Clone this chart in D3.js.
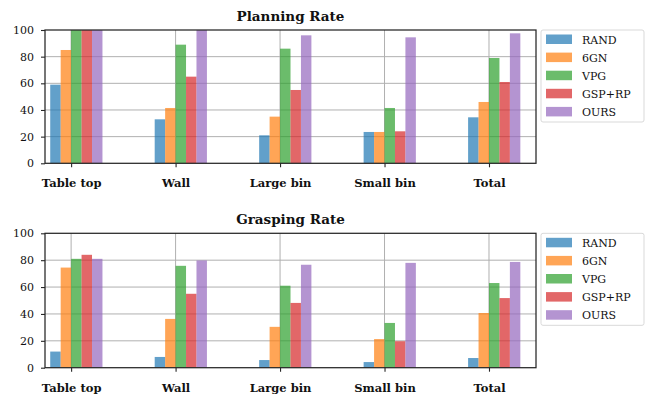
<!DOCTYPE html>
<html>
<head>
<meta charset="utf-8">
<script src="https://cdn.jsdelivr.net/npm/d3@7"></script>
<style>
  html, body { margin: 0; padding: 0; background: #fff; }
  svg { display: block; }
  text { font-family: "DejaVu Serif", serif; fill: #111; }
</style>
</head>
<body>
<svg id="chart" width="647" height="394"></svg>
<script>
// Scenario categories along the x axis
const categories = ["Table top", "Wall", "Large bin", "Small bin", "Total"];
// Methods compared (one bar each per category)
const methods = ["RAND", "6GN", "VPG", "GSP+RP", "OURS"];
const methodColors = ["#1f77b4", "#ff7f0e", "#2ca02c", "#d62728", "#9467bd"];
const yTicks = [0, 20, 40, 60, 80, 100];

// Planning rate (%) per method, listed by category
const planRAND  = [59, 33, 21, 23.5, 34.5];
const planSixGN = [85, 41.5, 35, 23.5, 46];
const planVPG   = [100, 89, 86, 41.5, 79];
const planGSPRP = [100, 65, 55, 24, 61];
const planOURS  = [100, 100, 96, 94.5, 97.5];

// Grasping rate (%) per method, listed by category
const graspRAND  = [12, 8, 5.7, 4.2, 7.2];
const graspSixGN = [74.5, 36.3, 30.4, 21.3, 40.7];
const graspVPG   = [81, 75.8, 61, 33.3, 63];
const graspGSPRP = [84, 55, 48.2, 19.7, 51.8];
const graspOURS  = [81, 79.8, 76.6, 78, 78.7];

const panels = [
  { title: "Planning Rate", top: 30, bottom: 163.3,
    series: [planRAND, planSixGN, planVPG, planGSPRP, planOURS] },
  { title: "Grasping Rate", top: 233.3, bottom: 367.7,
    series: [graspRAND, graspSixGN, graspVPG, graspGSPRP, graspOURS] }
];

const svg = d3.select("#chart");
const left = 45, right = 536;
const barW = 0.1;
const x = d3.scaleLinear().domain([-0.25, 4.45]).range([left, right]);

panels.forEach(p => {
  const g = svg.append("g");
  const y = d3.scaleLinear().domain([0, 100]).range([p.bottom, p.top]);

  // grid
  g.append("g").selectAll("line.h").data(yTicks.slice(1, -1)).join("line")
    .attr("x1", left).attr("x2", right)
    .attr("y1", d => y(d)).attr("y2", d => y(d))
    .attr("stroke", "#b0b0b0").attr("stroke-width", 1);
  g.append("g").selectAll("line.v").data(categories).join("line")
    .attr("x1", (d, i) => x(i)).attr("x2", (d, i) => x(i))
    .attr("y1", p.top).attr("y2", p.bottom)
    .attr("stroke", "#b0b0b0").attr("stroke-width", 1);

  // bars
  p.series.forEach((vals, j) => {
    g.append("g").selectAll("rect").data(vals).join("rect")
      .attr("x", (d, i) => x(i + (j - 2) * barW))
      .attr("width", x(barW) - x(0))
      .attr("y", d => y(d))
      .attr("height", d => y(0) - y(d))
      .attr("fill", methodColors[j])
      .attr("fill-opacity", 0.7);
  });

  // frame
  g.append("rect")
    .attr("x", left).attr("y", p.top)
    .attr("width", right - left).attr("height", p.bottom - p.top)
    .attr("fill", "none").attr("stroke", "#262626").attr("stroke-width", 1.25);

  // y axis
  const yAxis = d3.axisLeft(y).tickValues(yTicks).tickSize(4).tickPadding(7);
  const ya = g.append("g").attr("transform", `translate(${left},0)`).call(yAxis);
  ya.select(".domain").remove();
  ya.selectAll(".tick line").attr("stroke", "#262626").attr("stroke-width", 1.1);
  ya.selectAll(".tick text").style("font-family", "DejaVu Serif, serif")
    .style("font-size", "11px").attr("fill", "#222");

  // x axis
  const xAxis = d3.axisBottom(x).tickValues(d3.range(categories.length))
    .tickFormat(i => categories[i]).tickSize(4).tickPadding(12);
  const xa = g.append("g").attr("transform", `translate(0,${p.bottom})`).call(xAxis);
  xa.select(".domain").remove();
  xa.selectAll(".tick line").attr("stroke", "#262626").attr("stroke-width", 1.1);
  xa.selectAll(".tick text").style("font-family", "DejaVu Serif, serif")
    .style("font-size", "11.5px").style("font-weight", "bold").attr("fill", "#111");

  // title
  g.append("text")
    .attr("x", (left + right) / 2).attr("y", p.top - 9.5)
    .attr("text-anchor", "middle")
    .style("font-size", "13.5px").style("font-weight", "bold")
    .text(p.title);

  // legend
  const lg = g.append("g").attr("transform", `translate(541,${p.top})`);
  lg.append("rect").attr("x", 0).attr("y", 0).attr("width", 103).attr("height", 92)
    .attr("rx", 2).attr("fill", "#fff").attr("stroke", "#d9d9d9").attr("stroke-width", 1);
  methods.forEach((m, j) => {
    lg.append("rect").attr("x", 5).attr("y", 4.5 + j * 18.1)
      .attr("width", 26).attr("height", 9.5)
      .attr("fill", methodColors[j]).attr("fill-opacity", 0.7);
    lg.append("text").attr("x", 41).attr("y", 13.5 + j * 18.1)
      .style("font-size", "11px").text(m);
  });
});
</script>
</body>
</html>
